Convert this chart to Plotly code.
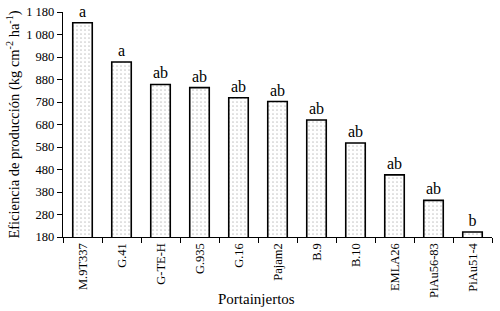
import plotly.graph_objects as go

categories = ["M.9T337", "G.41", "G-TE-H", "G.935", "G.16", "Pajam2", "B.9", "B.10", "EMLA26", "PiAu56-83", "PiAu51-4"]
values = [1132, 958, 858, 844, 799, 782, 700, 598, 456, 343, 202]
letters = ["a", "a", "ab", "ab", "ab", "ab", "ab", "ab", "ab", "ab", "b"]
ytick_vals = [180, 280, 380, 480, 580, 680, 780, 880, 980, 1080, 1180]
ytick_text = ["180", "280", "380", "480", "580", "680", "780", "880", "980", "1 080", "1 180"]

FONT = "Liberation Serif"
W, H = 500, 311
L, R, T, B = 63, 8, 12, 74

fig = go.Figure(go.Bar(
    x=categories, y=values, text=letters, textposition="outside",
    textfont=dict(family=FONT, size=16, color="black"),
    cliponaxis=False,
    marker=dict(color="white", line=dict(color="black", width=1.6),
                pattern=dict(shape=".", size=4, solidity=0.14, fgcolor="#8f8f8f", bgcolor="white")),
    width=0.5,
))

fig.update_layout(
    width=W, height=H,
    margin=dict(l=L, r=R, t=T, b=B, autoexpand=False),
    paper_bgcolor="white", plot_bgcolor="white",
    font=dict(family=FONT, size=12, color="black"),
    showlegend=False,
    xaxis=dict(showline=True, linecolor="black", linewidth=1.3, ticks="outside", ticklen=5,
               tickcolor="black", tickson="boundaries", tickangle=-90, automargin=False,
               ticklabeloverflow="allow",
               tickfont=dict(family=FONT, size=12.5), showgrid=False),
    yaxis=dict(range=[180, 1180], showline=True, linecolor="black", linewidth=1.3,
               ticks="outside", ticklen=5, tickcolor="black", automargin=False,
               ticklabeloverflow="allow",
               tickvals=ytick_vals, ticktext=ytick_text, tickfont=dict(family=FONT, size=12.5),
               showgrid=False, zeroline=False,
               title=dict(text="Eficiencia de producción (kg cm<sup>-2</sup> ha<sup>-1</sup>)",
                          font=dict(family=FONT, size=14.5), standoff=3)),
)
fig.add_annotation(text="Portainjertos", xref="paper", yref="paper",
                   x=(256 - L) / (W - L - R), y=-(299 - (H - B)) / (H - T - B),
                   xanchor="center", yanchor="middle", showarrow=False,
                   font=dict(family=FONT, size=15))

fig.write_html("out.html", config={"displayModeBar": False},
               post_script="document.body.style.margin='0';document.body.style.overflow='hidden';")
